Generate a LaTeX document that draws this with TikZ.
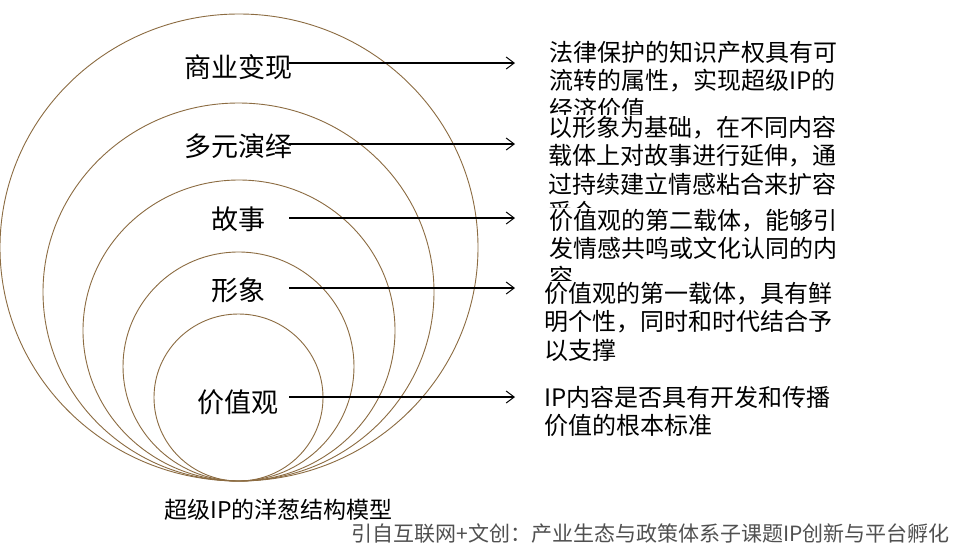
\documentclass[tikz,border=0pt]{standalone}
\usepackage{fontspec}
\setmainfont{Noto Sans CJK SC}
\usetikzlibrary{arrows.meta}
\definecolor{ringc}{RGB}{140,108,66}
\definecolor{srcgray}{RGB}{80,80,80}
\tikzset{
  ring/.style={draw=ringc, line width=0.9pt},
  layer/.style={font=\fontsize{27}{30}\selectfont, inner sep=0pt},
  desc/.style={font=\fontsize{24}{28.5}\selectfont, align=left, anchor=base west, fill=white, inner sep=1pt},
  pointer/.style={line width=1.2pt, -{Straight Barb[length=8pt,width=12pt,line width=1pt]}}
}
\begin{document}
\begin{tikzpicture}[x=1pt,y=-1pt]
\useasboundingbox[fill=white] (0,0) rectangle (954,550);
% rings
\draw[ring] (239,247.5) ellipse [x radius=239pt, y radius=233.5pt];
\draw[ring] (238.5,292) ellipse [x radius=195.5pt, y radius=189pt];
\draw[ring] (239,330.5) ellipse [x radius=156pt, y radius=150.5pt];
\draw[ring] (238.5,366.5) ellipse [x radius=115.5pt, y radius=114.5pt];
\draw[ring] (238.5,397.5) ellipse [x radius=84.5pt, y radius=83.5pt];
% layer labels
\node[layer] (l1) at (238,67) {商业变现};
\node[layer] (l2) at (238,146) {多元演绎};
\node[layer] (l3) at (238,219) {故事};
\node[layer] (l4) at (238,290) {形象};
\node[layer] (l5) at (238,402) {价值观};
% descriptions (anchor is the baseline of the last line)
\node[desc] (d1) at (548,118) {法律保护的知识产权具有可\\流转的属性，实现超级IP的\\经济价值};
\node[desc] (d2) at (547,221.5) {以形象为基础，在不同内容\\载体上对故事进行延伸，通\\过持续建立情感粘合来扩容\\受众};
\node[desc] (d3) at (548,286) {价值观的第二载体，能够引\\发情感共鸣或文化认同的内\\容};
\node[desc] (d4) at (543,359) {价值观的第一载体，具有鲜\\明个性，同时和时代结合予\\以支撑};
\node[desc] (d5) at (543,434.5) {IP内容是否具有开发和传播\\价值的根本标准};
% arrows
\coordinate (s1) at (289,63);  \coordinate (e1) at (515,63);
\coordinate (s2) at (289,144); \coordinate (e2) at (515,144);
\coordinate (s3) at (289,218); \coordinate (e3) at (515,218);
\coordinate (s4) at (289,288); \coordinate (e4) at (515,288);
\coordinate (s5) at (289,397); \coordinate (e5) at (515,397);
\draw[pointer] (s1) -- (e1);
\draw[pointer] (s2) -- (e2);
\draw[pointer] (s3) -- (e3);
\draw[pointer] (s4) -- (e4);
\draw[pointer] (s5) -- (e5);
% captions
\node[font=\fontsize{23}{26}\selectfont, inner sep=0pt] (cap) at (278.5,510) {超级IP的洋葱结构模型};
\node[font=\fontsize{21}{24}\selectfont, text=srcgray, inner sep=0pt, anchor=east] (src) at (950,534) {引自互联网+文创：产业生态与政策体系子课题IP创新与平台孵化};
\end{tikzpicture}
\end{document}
